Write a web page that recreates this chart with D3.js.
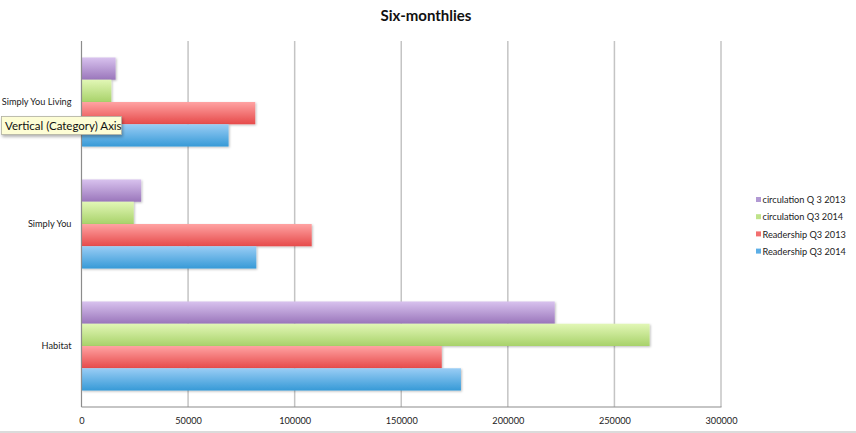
<!DOCTYPE html>
<html>
<head>
<meta charset="utf-8">
<script src="https://cdn.jsdelivr.net/npm/d3@7"></script>
<style>
  html, body { margin: 0; padding: 0; background: #fff; }
  svg { display: block; font-family: Lato, "Open Sans", sans-serif; }
</style>
</head>
<body>
<script>
const categories = ["Simply You Living", "Simply You", "Habitat"];
const seriesNames = ["circulation Q 3 2013", "circulation Q3 2014", "Readership Q3 2013", "Readership Q3 2014"];
const circulationQ32013 = [16000, 28000, 222000];
const circulationQ32014 = [14000, 24500, 266500];
const readershipQ32013 = [81500, 108000, 169000];
const readershipQ32014 = [69000, 82000, 178000];
const xTicks = [0, 50000, 100000, 150000, 200000, 250000, 300000];
const seriesValues = [circulationQ32013, circulationQ32014, readershipQ32013, readershipQ32014];
const seriesColors = [
  { top: "#d8c2ee", bottom: "#9a76bb", swatch: "#b199d3" },
  { top: "#e2f7b6", bottom: "#a8d26a", swatch: "#bfe38a" },
  { top: "#ffa3a3", bottom: "#e64a4a", swatch: "#f26f6f" },
  { top: "#9acdf5", bottom: "#369ad7", swatch: "#5caee6" }
];

const W = 856, H = 433;
const svg = d3.select("body").append("svg").attr("width", W).attr("height", H);
const defs = svg.append("defs");
seriesColors.forEach((c, i) => {
  const g = defs.append("linearGradient").attr("id", "g" + i)
    .attr("x1", 0).attr("y1", 0).attr("x2", 0).attr("y2", 1);
  g.append("stop").attr("offset", "0%").attr("stop-color", c.top);
  g.append("stop").attr("offset", "100%").attr("stop-color", c.bottom);
});
const f = defs.append("filter").attr("id", "sh").attr("x", "-5%").attr("y", "-20%").attr("width", "115%").attr("height", "150%");
f.append("feDropShadow").attr("dx", 1).attr("dy", 1).attr("stdDeviation", 0.8).attr("flood-color", "#000").attr("flood-opacity", 0.25);
const ft = defs.append("filter").attr("id", "tsh").attr("x", "-10%").attr("y", "-30%").attr("width", "130%").attr("height", "180%");
ft.append("feDropShadow").attr("dx", 1).attr("dy", 2).attr("stdDeviation", 1.5).attr("flood-color", "#000").attr("flood-opacity", 0.3);

const x0 = 81.5, x1 = 721, yTop = 41, yBot = 407;
const x = d3.scaleLinear().domain([0, 300000]).range([x0, x1]);
const y = d3.scaleBand().domain(categories).range([yTop, yBot]).paddingInner(0.27).paddingOuter(0.135);
const ySub = d3.scaleBand().domain(seriesNames).range([0, y.bandwidth()]);

// gridlines
svg.append("g").selectAll("line").data(xTicks.slice(1)).join("line")
  .attr("x1", d => x(d)).attr("x2", d => x(d))
  .attr("y1", yTop).attr("y2", yBot)
  .attr("stroke", "#c4c4c4").attr("stroke-width", 1.5);

// bars
const groups = svg.append("g").selectAll("g").data(categories).join("g")
  .attr("transform", d => `translate(0,${y(d)})`);
groups.each(function(cat, ci) {
  d3.select(this).selectAll("rect").data(seriesNames).join("rect")
    .attr("x", x(0))
    .attr("y", s => ySub(s))
    .attr("width", (s, si) => x(seriesValues[si][ci]) - x(0))
    .attr("height", ySub.bandwidth())
    .attr("fill", (s, si) => `url(#g${si})`)
    .attr("filter", "url(#sh)");
});

// axes lines
svg.append("line").attr("x1", x0).attr("x2", x0).attr("y1", yTop).attr("y2", yBot)
  .attr("stroke", "#8c8c8c").attr("stroke-width", 1.2);
svg.append("line").attr("x1", x0).attr("x2", x1 + 0.5).attr("y1", yBot).attr("y2", yBot)
  .attr("stroke", "#8c8c8c").attr("stroke-width", 1.2);

// x axis labels
const xAxis = d3.axisBottom(x).tickValues(xTicks).tickSize(0).tickPadding(0).tickFormat(d3.format("d"));
const xg = svg.append("g").attr("transform", `translate(0,${yBot})`).call(xAxis);
xg.select(".domain").remove();
xg.selectAll("text").attr("y", 17).attr("dy", 0).attr("font-size", 9.2).attr("fill", "#222")
  .attr("font-family", "Lato, sans-serif");

// y axis labels
const yAxis = d3.axisLeft(y).tickSize(0).tickPadding(0);
const yg = svg.append("g").attr("transform", `translate(${x0 - 10},0)`).call(yAxis);
yg.select(".domain").remove();
yg.selectAll("text").attr("font-size", 9.2).attr("fill", "#222").attr("dy", "0.35em")
  .attr("font-family", "Lato, sans-serif");

// title
svg.append("text").attr("x", 426).attr("y", 21).attr("text-anchor", "middle")
  .attr("font-size", 15).attr("font-weight", "bold").attr("fill", "#111").text("Six-monthlies");

// legend
const leg = svg.append("g").selectAll("g").data(seriesNames).join("g")
  .attr("transform", (d, i) => `translate(756,${200 + i * 17.2})`);
leg.append("rect").attr("x", 0).attr("y", -3).attr("width", 5).attr("height", 5)
  .attr("fill", (d, i) => seriesColors[i].swatch);
leg.append("text").attr("x", 6.5).attr("y", 0).attr("dy", "0.35em").attr("font-size", 9.2)
  .attr("fill", "#222").text(d => d);

// tooltip
const tip = svg.append("g").attr("transform", "translate(1,116)");
tip.append("rect").attr("x", 0.5).attr("y", 0.5).attr("width", 120).attr("height", 18)
  .attr("fill", "#fdfdd5").attr("stroke", "#b0b0a0").attr("stroke-width", 0.8).attr("filter", "url(#tsh)");
tip.append("text").attr("x", 4).attr("y", 13.5).attr("font-size", 11.5).attr("fill", "#111")
  .attr("font-family", "Lato, sans-serif").text("Vertical (Category) Axis");

// window border bottom
svg.append("line").attr("x1", 0).attr("x2", W).attr("y1", 432).attr("y2", 432)
  .attr("stroke", "#cfcfcf").attr("stroke-width", 1.5);
</script>
</body>
</html>
